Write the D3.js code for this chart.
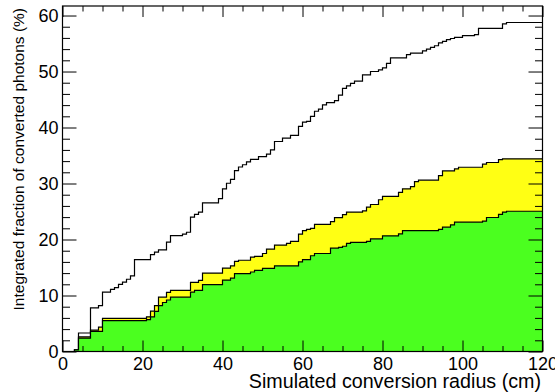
<!DOCTYPE html>
<html>
<head>
<meta charset="utf-8">
<script src="https://cdn.jsdelivr.net/npm/d3@7"></script>
<style>
  html, body { margin: 0; padding: 0; background: #ffffff; }
  svg { display: block; }
  text { font-family: "Liberation Sans", Arial, Helvetica, sans-serif; fill: #000; }
</style>
</head>
<body>
<svg id="chart" width="555" height="392"></svg>
<script>
// Cumulative fraction of converted photons vs. conversion radius (1 cm bins).
// Each series is a step function: value holds from its radius up to the next one.

// All converted photons
const radiusAll = [0, 3, 4, 7, 9, 10, 12, 13, 14, 15, 16, 17, 18, 22, 23, 24, 26, 27, 30, 31,
  32, 33, 34, 35, 39, 40, 41, 42, 43, 44, 45, 46, 47, 49, 51, 52, 53, 55, 57, 59,
  60, 61, 62, 63, 64, 65, 66, 68, 69, 70, 71, 72, 73, 75, 77, 79, 80, 81, 82, 86,
  87, 90, 91, 92, 93, 94, 95, 96, 97, 98, 100, 103, 104, 110, 111];
const fractionAll = [0, 0.3, 3.3, 7.8, 8.2, 10.6, 11.1, 11.4, 12.0, 12.4, 12.9, 13.5, 16.4, 17.3, 17.75, 18.15, 19.55, 20.7, 20.95, 21.3,
  24.0, 24.5, 24.9, 26.55, 27.3, 29.05, 30.05, 30.75, 32.3, 32.95, 33.35, 33.85, 34.3, 34.8, 35.25, 36.0, 37.5, 38.1, 38.6, 40.2,
  40.95, 41.1, 42.0, 42.9, 43.3, 44.05, 44.45, 44.8, 45.8, 47.0, 47.45, 47.9, 48.3, 49.4, 50.0, 50.3, 50.65, 51.45, 52.45, 53.0,
  53.3, 53.7, 54.0, 54.3, 54.6, 55.1, 55.4, 55.7, 55.9, 56.1, 56.4, 56.6, 57.7, 58.5, 58.75];

// Yellow band (upper selection)
const radiusYellow = [0, 3, 4, 7, 9, 10, 21, 22, 23, 24, 26, 27, 32, 34, 35, 40, 42, 43, 44, 47,
  48, 50, 51, 53, 56, 57, 59, 60, 61, 62, 63, 67, 68, 70, 71, 75, 76, 77, 79, 80,
  84, 85, 87, 88, 89, 94, 95, 98, 99, 105, 106, 109, 110];
const fractionYellow = [0, 0.3, 2.6, 3.8, 4.35, 5.9, 6.2, 7.2, 8.2, 9.7, 10.55, 10.9, 12.35, 12.7, 14.0, 14.9, 15.3, 16.1, 16.3, 16.85,
  16.97, 17.5, 18.3, 19.0, 19.3, 19.65, 20.96, 21.6, 21.8, 22.0, 22.7, 23.2, 23.9, 24.45, 24.9, 25.1, 25.8, 26.25, 27.1, 27.7,
  28.4, 29.05, 29.45, 30.35, 30.6, 31.4, 32.25, 32.6, 32.9, 33.45, 33.75, 34.25, 34.4];

// Green band (lower selection)
const radiusGreen = [0, 3, 4, 7, 10, 21, 22, 23, 24, 25, 26, 27, 32, 33, 35, 40, 42, 43, 47, 48,
  50, 53, 59, 60, 62, 63, 67, 69, 70, 71, 72, 76, 77, 80, 84, 85, 94, 95, 97, 98,
  105, 106, 109, 110, 111];
const fractionGreen = [0, 0.3, 2.4, 3.6, 5.5, 5.7, 6.2, 7.15, 8.2, 8.75, 9.2, 9.7, 10.6, 10.9, 11.95, 12.75, 13.1, 13.9, 14.2, 14.5,
  14.85, 15.3, 16.0, 16.4, 17.1, 17.5, 18.45, 18.6, 18.8, 19.3, 19.5, 19.65, 20.1, 20.66, 21.0, 21.6, 21.8, 22.2, 22.6, 23.1,
  23.3, 23.93, 24.5, 24.9, 25.05];

// Axis ticks
const xMajorTicks = [0, 20, 40, 60, 80, 100, 120];
const yMajorTicks = [0, 10, 20, 30, 40, 50, 60];
const xMinorTicks = d3.range(0, 121, 5).filter(v => v % 20 !== 0);
const yMinorTicks = d3.range(0, 62, 2).filter(v => v % 10 !== 0);

const xMax = 120;
const yMax = 61.7;

const svg = d3.select("#chart");
const frameLeft = 62.5, frameRight = 542.5, frameTop = 6, frameBottom = 351.5;

const x = d3.scaleLinear().domain([0, xMax]).range([frameLeft, frameRight]);
const y = d3.scaleLinear().domain([0, yMax]).range([frameBottom, frameTop]);

function stepPoints(radius, fraction) {
  const pts = radius.map((r, i) => [r, fraction[i]]);
  pts.push([xMax, fraction[fraction.length - 1]]);
  return pts;
}

const area = d3.area()
  .x(d => x(d[0]))
  .y0(y(0))
  .y1(d => y(d[1]))
  .curve(d3.curveStepAfter);

const line = d3.line()
  .x(d => x(d[0]))
  .y(d => y(d[1]))
  .curve(d3.curveStepAfter);

const series = [
  { r: radiusAll, f: fractionAll, fill: "#ffffff" },
  { r: radiusYellow, f: fractionYellow, fill: "#ffff14" },
  { r: radiusGreen, f: fractionGreen, fill: "#4bff1f" }
];

const plot = svg.append("g");
series.forEach(s => {
  const pts = stepPoints(s.r, s.f);
  plot.append("path").attr("d", area(pts)).attr("fill", s.fill).attr("stroke", "none");
  plot.append("path").attr("d", line(pts))
    .attr("fill", "none").attr("stroke", "#000").attr("stroke-width", 1.2);
});

// Axes with inward ticks on all four sides
function styleAxis(g) {
  g.select(".domain").remove();
  g.selectAll("line").attr("stroke", "#000").attr("stroke-width", 1);
  g.selectAll("text").attr("font-size", 18).attr("font-family", "Liberation Sans, Arial, sans-serif").attr("fill", "#000");
}

svg.append("g").attr("transform", `translate(0,${frameBottom})`)
  .call(d3.axisBottom(x).tickValues(xMajorTicks).tickSize(-11).tickPadding(6).tickFormat(d3.format("d")))
  .call(styleAxis);
svg.append("g").attr("transform", `translate(0,${frameBottom})`)
  .call(d3.axisBottom(x).tickValues(xMinorTicks).tickSize(-5.5).tickFormat(""))
  .call(styleAxis);
svg.append("g").attr("transform", `translate(0,${frameTop})`)
  .call(d3.axisTop(x).tickValues(xMajorTicks).tickSize(-11).tickFormat(""))
  .call(styleAxis);
svg.append("g").attr("transform", `translate(0,${frameTop})`)
  .call(d3.axisTop(x).tickValues(xMinorTicks).tickSize(-5.5).tickFormat(""))
  .call(styleAxis);

svg.append("g").attr("transform", `translate(${frameLeft},0)`)
  .call(d3.axisLeft(y).tickValues(yMajorTicks).tickSize(-14).tickPadding(4).tickFormat(d3.format("d")))
  .call(styleAxis);
svg.append("g").attr("transform", `translate(${frameLeft},0)`)
  .call(d3.axisLeft(y).tickValues(yMinorTicks).tickSize(-7.5).tickFormat(""))
  .call(styleAxis);
svg.append("g").attr("transform", `translate(${frameRight},0)`)
  .call(d3.axisRight(y).tickValues(yMajorTicks).tickSize(-14).tickFormat(""))
  .call(styleAxis);
svg.append("g").attr("transform", `translate(${frameRight},0)`)
  .call(d3.axisRight(y).tickValues(yMinorTicks).tickSize(-7.5).tickFormat(""))
  .call(styleAxis);

// Frame
svg.append("rect")
  .attr("x", frameLeft).attr("y", frameTop)
  .attr("width", frameRight - frameLeft).attr("height", frameBottom - frameTop)
  .attr("fill", "none").attr("stroke", "#000").attr("stroke-width", 1.2);

// Axis titles
svg.append("text")
  .attr("x", 541).attr("y", 388)
  .attr("text-anchor", "end")
  .attr("font-size", 19.7)
  .text("Simulated conversion radius (cm)");

svg.append("text")
  .attr("transform", "translate(24,8) rotate(-90)")
  .attr("text-anchor", "end")
  .attr("font-size", 15.5)
  .text("Integrated fraction of converted photons (%)");
</script>
</body>
</html>
